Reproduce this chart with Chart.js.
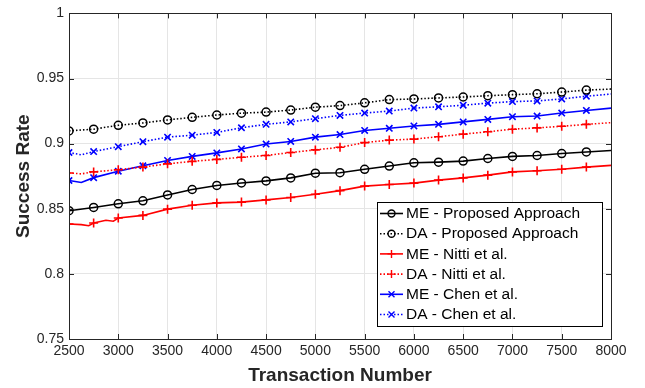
<!DOCTYPE html>
<html>
<head>
<meta charset="utf-8">
<script src="https://cdn.jsdelivr.net/npm/chart.js@4/dist/chart.umd.min.js"></script>
<style>
html,body{margin:0;padding:0;background:#fff;}
#wrap{width:645px;height:388px;}
</style>
</head>
<body>
<div id="wrap"><canvas id="c" width="645" height="388"></canvas></div>
<script>
// ---- data ----
const transactions = [2500,2750,3000,3250,3500,3750,4000,4250,4500,4750,5000,5250,5500,5750,6000,6250,6500,6750,7000,7250,7500,7750,8000];
const meProposed = [0.8485,0.8510,0.8538,0.8561,0.8606,0.8648,0.8679,0.8698,0.8714,0.8737,0.8773,0.8777,0.8803,0.8828,0.8853,0.8858,0.8866,0.8886,0.8902,0.8909,0.8924,0.8936,0.8947];
const daProposed = [0.9098,0.9111,0.9141,0.9159,0.9182,0.9202,0.9220,0.9234,0.9242,0.9258,0.9280,0.9292,0.9313,0.9338,0.9343,0.9351,0.9358,0.9368,0.9376,0.9383,0.9396,0.9411,0.9419];
const meNitti = [0.8383,0.8391,0.8429,0.8449,0.8497,0.8527,0.8545,0.8551,0.8568,0.8586,0.8611,0.8639,0.8674,0.8686,0.8697,0.8720,0.8737,0.8758,0.8783,0.8792,0.8803,0.8820,0.8833];
const daNitti = [0.8775,0.8783,0.8800,0.8820,0.8845,0.8864,0.8879,0.8895,0.8909,0.8932,0.8952,0.8972,0.9008,0.9027,0.9035,0.9053,0.9073,0.9091,0.9111,0.9121,0.9133,0.9148,0.9161];
const meChen = [0.8717,0.8739,0.8788,0.8830,0.8871,0.8902,0.8929,0.8959,0.8997,0.9017,0.9050,0.9070,0.9101,0.9118,0.9136,0.9148,0.9167,0.9186,0.9207,0.9212,0.9235,0.9255,0.9273];
const daChen = [0.8932,0.8939,0.8977,0.9015,0.9050,0.9065,0.9086,0.9122,0.9148,0.9167,0.9192,0.9217,0.9235,0.9250,0.9273,0.9283,0.9295,0.9311,0.9323,0.9328,0.9343,0.9364,0.9381];
// extra in-between readings where the curves visibly dip
const meChenExtra = [[2625,0.8702]];
const daChenExtra = [[2625,0.8914]];
const daNittiExtra = [[2625,0.8768]];
const meNittiExtra = [[2625,0.8378],[2700,0.8370],[2875,0.8412],[2950,0.8404]];
const xTickLabels = ['2500','3000','3500','4000','4500','5000','5500','6000','6500','7000','7500','8000'];
const yTickLabels = ['0.75','0.8','0.85','0.9','0.95','1'];
const seriesNames = ['ME - Proposed Approach','DA - Proposed Approach','ME - Nitti et al.','DA - Nitti et al.','ME - Chen et al.','DA - Chen et al.'];

function build(vals, extra){
  const pts = transactions.map((x,i)=>({x:x,y:vals[i],m:x<8000}));
  (extra||[]).forEach(e=>pts.push({x:e[0],y:e[1],m:false}));
  pts.sort((a,b)=>a.x-b.x);
  return pts;
}
const styles = [
  {color:'#000000', dash:[], marker:'circle', vals:meProposed, extra:null},
  {color:'#000000', dash:[1.5,2], marker:'circle', vals:daProposed, extra:null},
  {color:'#ff0000', dash:[], marker:'cross', vals:meNitti, extra:meNittiExtra},
  {color:'#ff0000', dash:[1.5,2], marker:'cross', vals:daNitti, extra:daNittiExtra},
  {color:'#0000ff', dash:[], marker:'crossRot', vals:meChen, extra:meChenExtra},
  {color:'#0000ff', dash:[1.5,2], marker:'crossRot', vals:daChen, extra:daChenExtra}
];
const datasets = styles.map((s,i)=>({
  label: seriesNames[i],
  data: build(s.vals, s.extra),
  borderColor: s.color,
  backgroundColor: 'rgba(0,0,0,0)',
  borderWidth: 1.6,
  borderDash: s.dash,
  pointStyle: s.marker,
  pointBorderColor: s.color,
  pointBackgroundColor: 'rgba(0,0,0,0)',
  pointBorderWidth: s.marker==='circle'?1.5:1.6,
  pointRadius: ctx => (ctx.raw && ctx.raw.m) ? (s.marker==='circle'?4:4.5) : 0,
  pointHoverRadius: 0,
  tension: 0,
  fill: false
}));

const AX = '#262626';
const FONT = "'Liberation Sans', Arial, Helvetica, sans-serif";

const frame = {
  id:'frame',
  afterDraw(chart){
    const ctx = chart.ctx, a = chart.chartArea;
    const xs = chart.scales.x, ys = chart.scales.y;
    ctx.save();
    ctx.strokeStyle = AX; ctx.lineWidth = 1;
    ctx.beginPath();
    xs.ticks.forEach(t=>{
      const px = Math.round(xs.getPixelForValue(t.value))+0.5;
      ctx.moveTo(px,a.bottom); ctx.lineTo(px,a.bottom-5);
      ctx.moveTo(px,a.top); ctx.lineTo(px,a.top+5);
    });
    ys.ticks.forEach(t=>{
      const py = Math.round(ys.getPixelForValue(t.value))+0.5;
      ctx.moveTo(a.left,py); ctx.lineTo(a.left+5,py);
      ctx.moveTo(a.right,py); ctx.lineTo(a.right-5,py);
    });
    ctx.stroke();
    ctx.strokeRect(Math.round(a.left)+0.5, Math.round(a.top)+0.5, Math.round(a.right-a.left), Math.round(a.bottom-a.top));
    // legend box
    const lx=377, ly=202, lw=225, lh=124;
    ctx.fillStyle='#fff';
    ctx.fillRect(lx,ly,lw,lh);
    ctx.strokeStyle='#000'; ctx.lineWidth=1;
    ctx.strokeRect(lx+0.5,ly+0.5,lw,lh);
    ctx.font = '15.5px '+FONT;
    ctx.textBaseline='middle'; ctx.textAlign='left';
    chart.data.datasets.forEach((d,i)=>{
      const s = styles[i];
      const y = 213.5 + i*20.2;
      ctx.strokeStyle = s.color; ctx.lineWidth=1.6;
      ctx.setLineDash(s.dash);
      ctx.beginPath(); ctx.moveTo(380,y); ctx.lineTo(403,y); ctx.stroke();
      ctx.setLineDash([]);
      const mx=391.5, r=(s.marker==='circle'?3.5:4);
      ctx.beginPath();
      if(s.marker==='circle'){ ctx.arc(mx,y,r,0,Math.PI*2); }
      else if(s.marker==='cross'){ ctx.moveTo(mx-r,y);ctx.lineTo(mx+r,y);ctx.moveTo(mx,y-r);ctx.lineTo(mx,y+r); }
      else { const q=r*0.75; ctx.moveTo(mx-q,y-q);ctx.lineTo(mx+q,y+q);ctx.moveTo(mx-q,y+q);ctx.lineTo(mx+q,y-q); }
      ctx.lineWidth=1.4; ctx.stroke();
      ctx.fillStyle='#000';
      ctx.fillText(d.label, 406, y+0.5);
    });
    ctx.restore();
  }
};

new Chart(document.getElementById('c'), {
  type:'line',
  data:{datasets:datasets},
  options:{
    responsive:false,
    animation:false,
    layout:{padding:{left:0,top:9,right:34,bottom:0}},
    plugins:{legend:{display:false},tooltip:{enabled:false}},
    scales:{
      x:{
        type:'linear', min:2500, max:8000,
        afterBuildTicks(sc){ sc.ticks = xTickLabels.map(v=>({value:Number(v)})); },
        afterFit(sc){ sc.height = 49; },
        grid:{color:'#e5e5e5', lineWidth:1, drawTicks:false},
        border:{display:false},
        ticks:{color:AX, font:{family:FONT,size:14}, padding:4, maxRotation:0, autoSkip:false,
          callback:(v)=>{ const i = xTickLabels.indexOf(String(v)); return i>=0?xTickLabels[i]:''; }},
        title:{display:true, text:'Transaction Number', color:AX, font:{family:FONT,size:19,weight:'bold'}, padding:{top:0,bottom:1}}
      },
      y:{
        type:'linear', min:0.75, max:1,
        afterBuildTicks(sc){ sc.ticks = yTickLabels.map(v=>({value:Number(v)})); },
        afterFit(sc){ sc.width = 69; },
        grid:{color:'#e5e5e5', lineWidth:1, drawTicks:false},
        border:{display:false},
        ticks:{color:AX, font:{family:FONT,size:14}, padding:5, autoSkip:false,
          callback:(v)=>{ const i = yTickLabels.map(Number).indexOf(Number(v.toFixed(2))); return i>=0?yTickLabels[i]:''; }},
        title:{display:true, text:'Success Rate', color:AX, font:{family:FONT,size:19,weight:'bold'}, padding:{top:12,bottom:4}}
      }
    }
  },
  plugins:[frame]
});
</script>
</body>
</html>
